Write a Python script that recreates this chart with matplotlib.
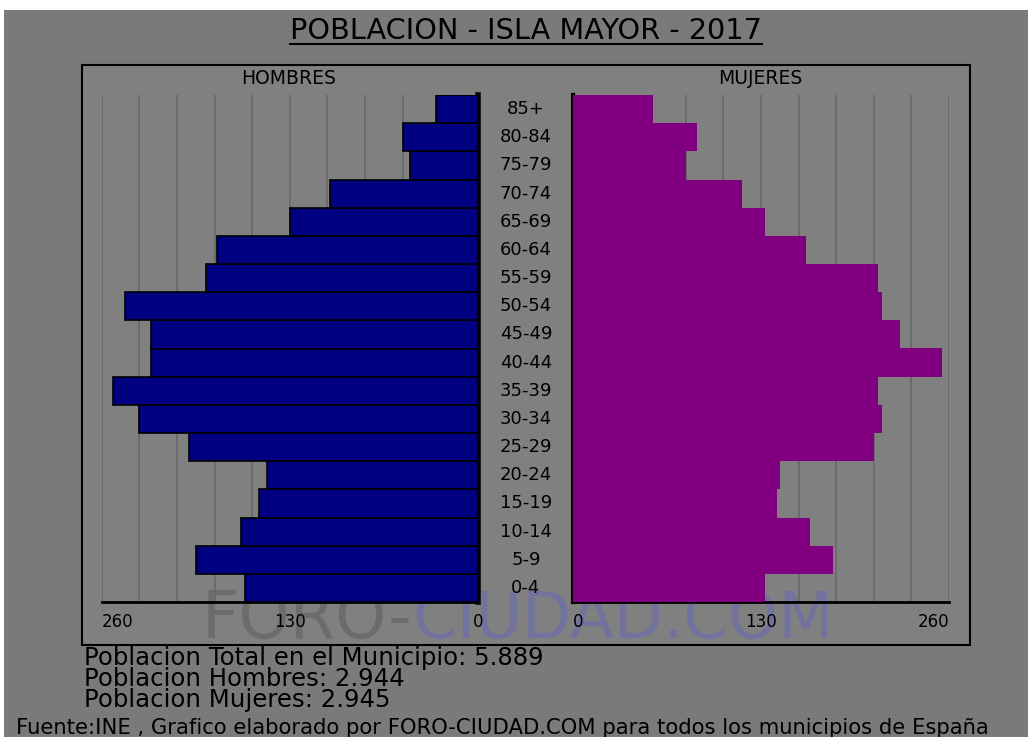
import numpy as np
import matplotlib.pyplot as plt
from matplotlib.patches import Rectangle
from matplotlib.lines import Line2D
from matplotlib import transforms

W, H = 1028, 737

edades = ["0-4", "5-9", "10-14", "15-19", "20-24", "25-29", "30-34", "35-39", "40-44",
          "45-49", "50-54", "55-59", "60-64", "65-69", "70-74", "75-79", "80-84", "85+"]
hombres = [161, 195, 164, 151, 146, 200, 234, 252, 226, 226, 244, 188, 180, 130, 102, 47, 52, 29]
mujeres = [133, 180, 164, 141, 143, 208, 214, 211, 255, 226, 214, 211, 161, 133, 117, 78, 86, 55]

titulo = "POBLACION - ISLA MAYOR - 2017"
lineas_resumen = ["Poblacion Total en el Municipio: 5.889",
                  "Poblacion Hombres: 2.944",
                  "Poblacion Mujeres: 2.945"]
fuente = "Fuente:INE , Grafico elaborado por FORO-CIUDAD.COM para todos los municipios de España"

def fx(px):
    return px / W

def fy(py):
    return 1 - py / H

fig = plt.figure(figsize=(W / 100, H / 100), dpi=100)
fig.patch.set_facecolor("white")

# fondo gris y marco
fig.add_artist(Rectangle((fx(4), 0), 1 - fx(4), fy(10), transform=fig.transFigure,
                         facecolor="#7a7a7a", edgecolor="none", zorder=-20))
fig.add_artist(Rectangle((fx(82), fy(645)), fx(970) - fx(82), (645 - 65) / H,
                         transform=fig.transFigure, facecolor="#808080",
                         edgecolor="black", lw=1.5, zorder=-19))

# marca de agua
fig.text(fx(412), fy(620), "FORO-", ha="right", va="center", fontsize=47,
         color="#6c6c6c", zorder=-5)
fig.text(fx(412), fy(620), "CIUDAD.COM", ha="left", va="center", fontsize=46,
         color="#72729e", zorder=-5)

y = np.arange(len(edades))
top, bottom = 95, 602
axL = fig.add_axes([fx(101.7), fy(bottom), fx(478) - fx(101.7), (bottom - top) / H])
axR = fig.add_axes([fx(573), fy(bottom), fx(949) - fx(573), (bottom - top) / H])

axL.barh(y, hombres, height=1.0, color="#000080", edgecolor="black", lw=1.2, zorder=3)
axR.barh(y, mujeres, height=1.0, color="#800080", edgecolor="none", zorder=3)

for ax, lado in ((axL, "L"), (axR, "R")):
    ax.set_facecolor("none")
    ax.set_ylim(-0.5, len(edades) - 0.5)
    ax.set_yticks([])
    ax.set_xticks([0, 130, 260])
    ax.set_xticks(np.arange(0, 261, 26), minor=True)
    ax.grid(True, which="both", axis="x", color="#676767", lw=1.2, zorder=0)
    ax.tick_params(axis="x", which="both", length=0, pad=8, labelsize=12)
    ax.spines["top"].set_visible(False)
    ax.spines["bottom"].set_linewidth(2)
    ax.set_axisbelow(True)
    if lado == "L":
        ax.set_xlim(260, 0)
        ax.spines["left"].set_visible(False)
        ax.spines["right"].set_linewidth(4)
        ax.set_xticklabels(["0", "130", "260"])
        for lab, ha in zip(ax.get_xticklabels(), ["center", "center", "left"]):
            lab.set_ha(ha)
    else:
        ax.set_xlim(0, 260)
        ax.spines["right"].set_visible(False)
        ax.spines["left"].set_linewidth(3)
        ax.set_xticklabels(["0", "130", "260"])
        for lab, ha in zip(ax.get_xticklabels(), ["left", "center", "right"]):
            lab.set_ha(ha)

# etiquetas de edad en la columna central
trans = transforms.blended_transform_factory(fig.transFigure, axL.transData)
for i, e in enumerate(edades):
    fig.text(fx(526), i, e, transform=trans, ha="center", va="center", fontsize=13)

fig.text(fx(289), fy(78), "HOMBRES", ha="center", va="center", fontsize=13.5)
fig.text(fx(760), fy(78), "MUJERES", ha="center", va="center", fontsize=13.5)

t = fig.text(fx(526), fy(31), titulo, ha="center", va="center", fontsize=20.7)

for k, linea in enumerate(lineas_resumen):
    fig.text(fx(84), fy(658 + 21 * k), linea, ha="left", va="center", fontsize=17.6)
fig.text(fx(16), fy(728), fuente, ha="left", va="center", fontsize=15.2)

# subrayado del titulo
fig.canvas.draw()
bb = t.get_window_extent().transformed(fig.transFigure.inverted())
fig.add_artist(Line2D([bb.x0, bb.x1], [bb.y0 + 0.002, bb.y0 + 0.002],
                      transform=fig.transFigure, color="black", lw=1.5))

fig.savefig("out.png", dpi=100, facecolor=fig.get_facecolor())
